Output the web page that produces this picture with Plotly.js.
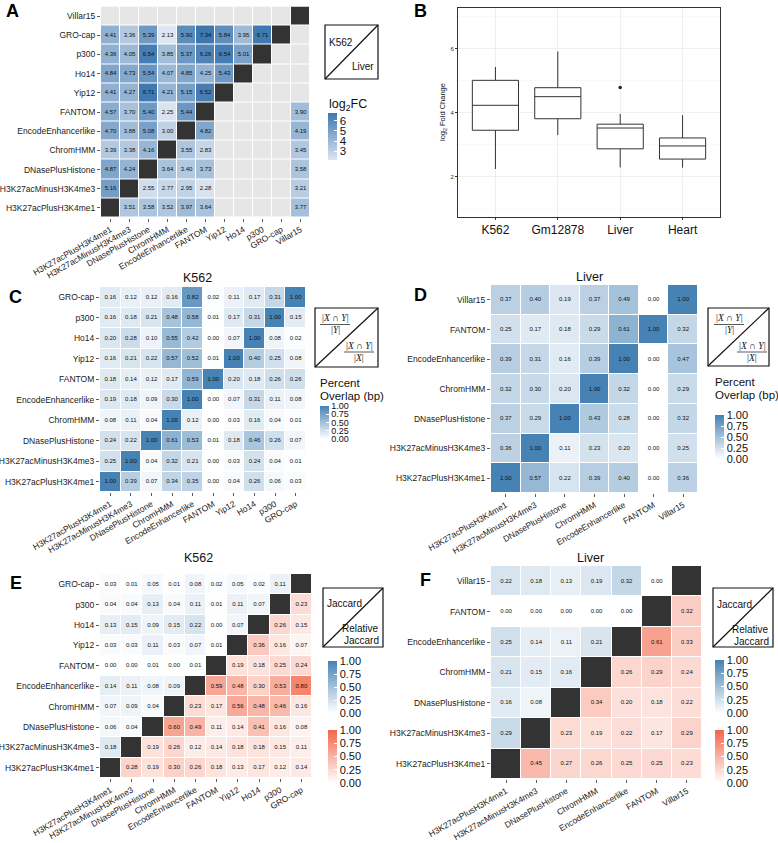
<!DOCTYPE html>
<html><head><meta charset="utf-8">
<script src="https://cdn.plot.ly/plotly-3.0.1.min.js"></script>
<style>body{margin:0;padding:0;background:#fff}#chart{width:778px;height:843px}</style>
</head><body><div id="chart"></div>
<script>
// ---------- DATA ----------
const cats11 = ['H3K27acPlusH3K4me1','H3K27acMinusH3K4me3','DNasePlusHistone','ChromHMM','EncodeEnhancerlike','FANTOM','Yip12','Ho14','p300','GRO-cap','Villar15'];
const cats10 = ['H3K27acPlusH3K4me1','H3K27acMinusH3K4me3','DNasePlusHistone','ChromHMM','EncodeEnhancerlike','FANTOM','Yip12','Ho14','p300','GRO-cap'];
const cats7 = ['H3K27acPlusH3K4me1','H3K27acMinusH3K4me3','DNasePlusHistone','ChromHMM','EncodeEnhancerlike','FANTOM','Villar15'];

// Panel A: log2FC, K562 (below diagonal, rows in cats11 order)
const aK562 = [
 [],
 [5.16],
 [4.87,4.24],
 [3.39,3.38,4.16],
 [4.70,3.88,5.08,3.00],
 [4.57,3.70,5.40,2.25,5.44],
 [4.41,4.27,6.71,4.21,5.15,6.52],
 [4.84,4.73,5.54,4.07,4.85,4.25,5.43],
 [4.36,4.05,6.54,3.85,5.37,6.26,6.54,5.01],
 [4.41,3.36,5.39,2.13,5.90,7.34,5.84,3.95,6.71],
 []
];
// Panel A: log2FC, Liver (above diagonal, rows in cats7 order, values for later columns)
const aLiver = [
 [3.51,3.58,3.52,3.97,3.64,3.77],
 [2.55,2.77,2.95,2.28,3.21],
 [3.64,3.40,3.73,3.58],
 [3.55,2.83,3.45],
 [4.82,4.19],
 [3.90],
 []
];

// Panel B: box summaries
const bCats = ['K562','Gm12878','Liver','Heart'];
const bQ1 = [3.46,3.82,2.88,2.56];
const bMed = [4.24,4.51,3.53,2.97];
const bQ3 = [5.02,4.79,3.65,3.22];
const bLo = [2.25,3.31,2.30,2.29];
const bHi = [5.44,5.92,3.97,3.93];
const bOutX = ['Liver'];
const bOutY = [4.80];

// Panel C: percent overlap K562 (rows cats10 order)
const cK562 = [
 [1.00,0.39,0.07,0.34,0.35,0.00,0.04,0.26,0.06,0.03],
 [0.25,1.00,0.04,0.32,0.21,0.00,0.03,0.24,0.04,0.01],
 [0.24,0.22,1.00,0.61,0.53,0.01,0.18,0.46,0.26,0.07],
 [0.08,0.11,0.04,1.00,0.12,0.00,0.03,0.16,0.04,0.01],
 [0.19,0.18,0.09,0.30,1.00,0.00,0.07,0.31,0.11,0.08],
 [0.18,0.14,0.12,0.17,0.59,1.00,0.20,0.18,0.26,0.26],
 [0.16,0.21,0.22,0.57,0.52,0.01,1.00,0.40,0.25,0.08],
 [0.20,0.28,0.10,0.55,0.42,0.00,0.07,1.00,0.08,0.02],
 [0.16,0.18,0.21,0.48,0.58,0.01,0.17,0.31,1.00,0.15],
 [0.16,0.12,0.12,0.16,0.82,0.02,0.11,0.17,0.31,1.00]
];
// Panel D: percent overlap Liver (rows cats7 order)
const dLiver = [
 [1.00,0.57,0.22,0.39,0.40,0.00,0.36],
 [0.36,1.00,0.11,0.23,0.20,0.00,0.25],
 [0.37,0.29,1.00,0.43,0.28,0.00,0.32],
 [0.32,0.30,0.20,1.00,0.32,0.00,0.29],
 [0.39,0.31,0.16,0.39,1.00,0.00,0.47],
 [0.25,0.17,0.18,0.29,0.61,1.00,0.32],
 [0.37,0.40,0.19,0.37,0.49,0.00,1.00]
];
// Panel E: Jaccard (below diag) / Relative Jaccard (above diag), K562
const eK562 = [
 [null,0.28,0.19,0.30,0.26,0.18,0.13,0.17,0.12,0.14],
 [0.18,null,0.19,0.26,0.12,0.14,0.18,0.18,0.15,0.11],
 [0.06,0.04,null,0.60,0.49,0.11,0.14,0.41,0.16,0.08],
 [0.07,0.09,0.04,null,0.23,0.17,0.56,0.48,0.46,0.16],
 [0.14,0.11,0.08,0.09,null,0.59,0.48,0.30,0.53,0.80],
 [0.00,0.00,0.01,0.00,0.01,null,0.19,0.18,0.25,0.24],
 [0.03,0.03,0.11,0.03,0.07,0.01,null,0.36,0.16,0.07],
 [0.13,0.15,0.09,0.15,0.22,0.00,0.07,null,0.26,0.15],
 [0.04,0.04,0.13,0.04,0.11,0.01,0.11,0.07,null,0.23],
 [0.03,0.01,0.05,0.01,0.08,0.02,0.05,0.02,0.11,null]
];
// Panel F: Liver
const fLiver = [
 [null,0.45,0.27,0.26,0.25,0.25,0.23],
 [0.29,null,0.23,0.19,0.22,0.17,0.29],
 [0.16,0.08,null,0.34,0.20,0.18,0.22],
 [0.21,0.15,0.16,null,0.26,0.29,0.24],
 [0.25,0.14,0.11,0.21,null,0.61,0.33],
 [0.00,0.00,0.00,0.00,0.00,null,0.32],
 [0.22,0.18,0.13,0.19,0.32,0.00,null]
];
const pctTicks = [0,0.25,0.5,0.75,1];
const fcTicks = [3,4,5,6];

// ---------- HELPERS ----------
const W=778,H=843;
const px=x=>x/W, py=y=>1-y/H;
const FONT='Liberation Sans, Arial, Helvetica, sans-serif';
const BLUE=[[0,'#ffffff'],[1,'#4682b4']];
const RED=[[0,'#ffffff'],[1,'#f26649']];
const FCSCALE=[[0,'#dde6f1'],[1,'#3c77b0']];
const GREY=[[0,'#e6e6e6'],[1,'#e6e6e6']];
const BLACK=[[0,'#333333'],[1,'#333333']];

function empty(n){return Array.from({length:n},()=>Array(n).fill(null));}
function hm(xa,ya,cats,z,cs,zmin,zmax,cb){
  const t={type:'heatmap',x:cats,y:cats,z:z,xaxis:xa,yaxis:ya,colorscale:cs,zmin:zmin,zmax:zmax,
    xgap:1,ygap:1,hoverinfo:'skip',showscale:!!cb};
  if(cb) t.colorbar=cb;
  return t;
}
function txt(xa,ya,cats,z){
  const xs=[],ys=[],ts=[];
  for(let i=0;i<z.length;i++)for(let j=0;j<z[i].length;j++){
    if(z[i][j]!==null&&z[i][j]!==undefined){xs.push(cats[j]);ys.push(cats[i]);ts.push(z[i][j].toFixed(2));}
  }
  return {type:'scatter',mode:'text',x:xs,y:ys,text:ts,xaxis:xa,yaxis:ya,hoverinfo:'skip',
    textfont:{size:6,color:'#111',family:FONT},cliponaxis:false};
}
function diagZ(n){const z=empty(n);for(let i=0;i<n;i++)z[i][i]=1;return z;}
function cbar(x,top,len,tv,fmt,fs){
  return {x:px(x),xanchor:'left',y:py(top),yanchor:'top',len:len,lenmode:'pixels',thickness:9,
    xpad:0,ypad:0,outlinewidth:0,ticks:'inside',ticklen:3,tickcolor:'white',tickwidth:1,
    tickvals:tv,tickformat:fmt,tickfont:{size:fs||11,color:'#111',family:FONT}};
}
function hmAxes(dx,dy,cats){
  const common={type:'category',categoryorder:'array',categoryarray:cats,range:[-0.5,cats.length-0.5],
    showgrid:false,zeroline:false,showline:false,ticks:'outside',ticklen:3,tickwidth:0.8,tickcolor:'#333',
    tickfont:{size:8.5,color:'#1a1a1a',family:FONT},fixedrange:true,automargin:false};
  return [Object.assign({},common,{domain:[px(dx[0]),px(dx[1])],tickangle:-30}),
          Object.assign({},common,{domain:[py(dy[1]),py(dy[0])]})];
}

const traces=[];
// ---------- A ----------
const zA=empty(11);
aK562.forEach((row,i)=>row.forEach((v,j)=>{zA[i][j]=v;}));
const idx7=cats7.map(c=>cats11.indexOf(c));
aLiver.forEach((row,r)=>row.forEach((v,k)=>{zA[idx7[r]][idx7[r+1+k]]=v;}));
const zAgrey=empty(11);
for(let i=0;i<11;i++)for(let j=0;j<11;j++) if(i!==j&&zA[i][j]===null) zAgrey[i][j]=1;
traces.push(hm('x','y',cats11,zAgrey,GREY,0,1,null));
traces.push(hm('x','y',cats11,diagZ(11),BLACK,0,1,null));
traces.push(hm('x','y',cats11,zA,FCSCALE,2.17,6.8,cbar(328,112.7,46.6,fcTicks,'d',11.5)));
traces.push(txt('x','y',cats11,zA));

// ---------- B ----------
traces.push({type:'box',x:bCats,q1:bQ1,median:bMed,q3:bQ3,lowerfence:bLo,upperfence:bHi,
  xaxis:'x2',yaxis:'y2',boxpoints:false,fillcolor:'white',line:{color:'#333',width:1},
  width:0.74,whiskerwidth:0,hoverinfo:'skip'});
traces.push({type:'scatter',mode:'markers',x:bOutX,y:bOutY,xaxis:'x2',yaxis:'y2',
  marker:{size:3.5,color:'#222'},hoverinfo:'skip'});

// ---------- C ----------
traces.push(hm('x3','y3',cats10,cK562,BLUE,0,1,cbar(320,406,33,pctTicks,'.2f',9)));
traces.push(txt('x3','y3',cats10,cK562));
// ---------- D ----------
traces.push(hm('x4','y4',cats7,dLiver,BLUE,0,1,cbar(715,415,44,pctTicks,'.2f',11)));
traces.push(txt('x4','y4',cats7,dLiver));

// ---------- E / F ----------
function splitTri(m){
  const n=m.length,lo=empty(n),up=empty(n);
  for(let i=0;i<n;i++)for(let j=0;j<n;j++){ if(j<i) lo[i][j]=m[i][j]; else if(j>i) up[i][j]=m[i][j]; }
  return [lo,up];
}
const [eLo,eUp]=splitTri(eK562);
traces.push(hm('x5','y5',cats10,eLo,BLUE,0,1,cbar(328,661,52,pctTicks,'.2f',11)));
traces.push(hm('x5','y5',cats10,eUp,RED,0,1,cbar(328,730,53,pctTicks,'.2f',11)));
traces.push(hm('x5','y5',cats10,diagZ(10),BLACK,0,1,null));
traces.push(txt('x5','y5',cats10,eK562));
const [fLo,fUp]=splitTri(fLiver);
traces.push(hm('x6','y6',cats7,fLo,BLUE,0,1,cbar(715,660,53,pctTicks,'.2f',11)));
traces.push(hm('x6','y6',cats7,fUp,RED,0,1,cbar(715,730,53,pctTicks,'.2f',11)));
traces.push(hm('x6','y6',cats7,diagZ(7),BLACK,0,1,null));
traces.push(txt('x6','y6',cats7,fLiver));

// ---------- LAYOUT ----------
const [xA,yA]=hmAxes([101,310],[6.5,217.5],cats11);
const [xC,yC]=hmAxes([100,306],[287,492],cats10);
const [xD,yD]=hmAxes([491,698],[285,493],cats7);
const [xE,yE]=hmAxes([100,312],[574,778],cats10);
const [xF,yF]=hmAxes([491,702],[566,779],cats7);
xA.anchor='y';yA.anchor='x';xC.anchor='y3';yC.anchor='x3';xD.anchor='y4';yD.anchor='x4';
xE.anchor='y5';yE.anchor='x5';xF.anchor='y6';yF.anchor='x6';

const xB={domain:[px(458),px(720)],anchor:'y2',type:'category',range:[-0.6,3.6],showgrid:true,gridcolor:'#ebebeb',gridwidth:0.8,
  zeroline:false,showline:true,mirror:true,linecolor:'#333',linewidth:1,ticks:'outside',ticklen:2,tickcolor:'#333',
  tickfont:{size:12,color:'#111',family:FONT},fixedrange:true};
const yB={domain:[py(217),py(8)],anchor:'x2',range:[0.75,7.28],tickvals:[2,4,6],showgrid:true,gridcolor:'#ebebeb',gridwidth:0.8,
  minor:{tickvals:[1,3,5,7],showgrid:true,gridcolor:'#f3f3f3',gridwidth:0.5,ticks:''},
  zeroline:false,showline:true,mirror:true,linecolor:'#333',linewidth:1,ticks:'outside',ticklen:2,tickcolor:'#333',
  tickfont:{size:6,color:'#333',family:FONT},fixedrange:true};

const ann=[];
function A(x,y,text,opt){ann.push(Object.assign({xref:'paper',yref:'paper',x:px(x),y:py(y),text:text,showarrow:false,
  xanchor:'center',yanchor:'middle',font:{size:10,color:'#111',family:FONT}},opt||{}));}
// panel letters
[['A',13,11],['B',421,11],['C',15,297],['D',421,295],['E',16,583],['F',425,580]].forEach(p=>
  A(p[1],p[2],'<b>'+p[0]+'</b>',{font:{size:18,color:'#000',family:FONT}}));
// titles
A(197,278,'K562',{font:{size:12.5,color:'#111',family:FONT}});
A(589,277,'Liver',{font:{size:12.5,color:'#111',family:FONT}});
A(198,558,'K562',{font:{size:12.5,color:'#111',family:FONT}});
A(590,558,'Liver',{font:{size:12.5,color:'#111',family:FONT}});
// B y title
A(443,112,'log<sub>2</sub> Fold Change',{textangle:-90,font:{size:7.5,color:'#111',family:FONT}});
// colorbar titles
A(327,105,'log<sub>2</sub>FC',{xanchor:'left',font:{size:12.5,color:'#111',family:FONT}});
A(318,383,'Percent',{xanchor:'left',font:{size:11.5,color:'#111',family:FONT}});
A(318,396,'Overlap (bp)',{xanchor:'left',font:{size:11.5,color:'#111',family:FONT}});
A(713,382,'Percent',{xanchor:'left',font:{size:11.5,color:'#111',family:FONT}});
A(713,395,'Overlap (bp)',{xanchor:'left',font:{size:11.5,color:'#111',family:FONT}});

const shapes=[];
function legBox(x0,y0,x1,y1){
  shapes.push({type:'rect',xref:'paper',yref:'paper',x0:px(x0),x1:px(x1),y0:py(y1),y1:py(y0),line:{color:'#111',width:1.2},fillcolor:'rgba(0,0,0,0)'});
  shapes.push({type:'line',xref:'paper',yref:'paper',x0:px(x0),y0:py(y1),x1:px(x1),y1:py(y0),line:{color:'#111',width:1.2}});
}
legBox(325,25,378,79);
A(327,43,'K562',{xanchor:'left',font:{size:10,color:'#111',family:FONT}});
A(376,67,'Liver',{xanchor:'right',font:{size:10,color:'#111',family:FONT}});

const SERIF={size:9.5,color:'#111',family:'Liberation Serif, DejaVu Serif, serif'};
function frac(cx,yn,yl,yd,den,w){
  A(cx,yn,'|<i>X</i> ∩ <i>Y</i>|',{font:SERIF});
  shapes.push({type:'line',xref:'paper',yref:'paper',x0:px(cx-w/2),x1:px(cx+w/2),y0:py(yl),y1:py(yl),line:{color:'#111',width:0.7}});
  A(cx,yd,'|<i>'+den+'</i>|',{font:SERIF});
}
// C legend
legBox(315,308,378,367);
frac(335,318,324.5,330,'Y',30);
frac(359,346,352,358,'X',30);
// D legend
legBox(708,308,769,366);
frac(729,318,324.5,330,'Y',30);
frac(752,346,352,358,'X',30);
// E legend
legBox(323,588,383,647);
A(325,603,'Jaccard',{xanchor:'left'});
A(381,628,'Relative',{xanchor:'right'});
A(381,640,'Jaccard',{xanchor:'right'});
// F legend
legBox(713,588,773,647);
A(715,604,'Jaccard',{xanchor:'left'});
A(771,629,'Relative',{xanchor:'right'});
A(771,641,'Jaccard',{xanchor:'right'});

const layout={width:W,height:H,margin:{l:0,r:0,t:0,b:0},showlegend:false,paper_bgcolor:'#fff',plot_bgcolor:'#fff',
  font:{family:FONT,color:'#111'},
  xaxis:xA,yaxis:yA,xaxis2:xB,yaxis2:yB,xaxis3:xC,yaxis3:yC,xaxis4:xD,yaxis4:yD,xaxis5:xE,yaxis5:yE,xaxis6:xF,yaxis6:yF,
  annotations:ann,shapes:shapes};
Plotly.newPlot('chart',traces,layout,{staticPlot:true,displayModeBar:false});
</script></body></html>
